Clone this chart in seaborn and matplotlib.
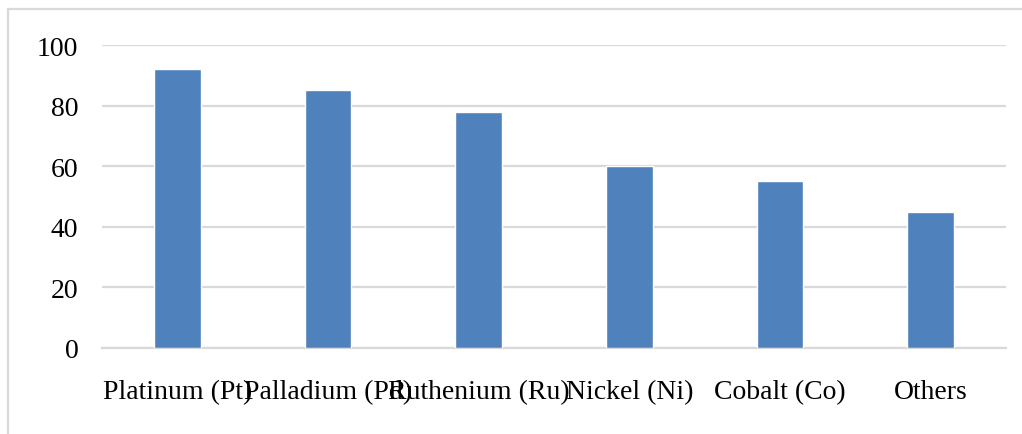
import matplotlib
matplotlib.use("Agg")
import matplotlib.pyplot as plt
from matplotlib.patches import Rectangle
import seaborn as sns
import pandas as pd

categories = ["Platinum (Pt)", "Palladium (Pd)", "Ruthenium (Ru)", "Nickel (Ni)", "Cobalt (Co)", "Others"]
values = [92, 85, 78, 60, 55, 45]
yticks = [0, 20, 40, 60, 80, 100]

sns.set_theme(style="white")
plt.rcParams["font.family"] = ["Liberation Serif", "DejaVu Serif"]

df = pd.DataFrame({"catalyst": categories, "value": values})

fig = plt.figure(figsize=(10.22, 4.35), dpi=100)
ax = fig.add_axes([102 / 1022, 1 - 349 / 435, (1006 - 102) / 1022, (349 - 46) / 435])

sns.barplot(data=df, x="catalyst", y="value", color="#4F81BD", width=0.31,
            saturation=1, ax=ax, zorder=3)

ax.set_ylim(0, 100)
ax.set_xlim(-0.5, len(categories) - 0.5)
ax.set_yticks(yticks)
ax.set_xlabel("")
ax.set_ylabel("")
ax.grid(axis="y", color="#d9d9d9", linewidth=1.6, zorder=0)
for side in ("top", "right", "left"):
    ax.spines[side].set_visible(False)
ax.spines["bottom"].set_color("#d9d9d9")
ax.spines["bottom"].set_linewidth(1.6)
ax.tick_params(axis="both", length=0, labelsize=20, colors="black")
ax.tick_params(axis="y", pad=17)
ax.tick_params(axis="x", pad=36)
# category labels share one baseline
for lbl in ax.get_xticklabels():
    lbl.set_verticalalignment("baseline")

# outer chart frame
fig.patches.append(Rectangle((8 / 1022, -0.05), 1.1, 1 - 10 / 435 + 0.05,
                             transform=fig.transFigure, fill=False,
                             edgecolor="#d9d9d9", linewidth=1.6))

fig.savefig("out.png", dpi=100)
